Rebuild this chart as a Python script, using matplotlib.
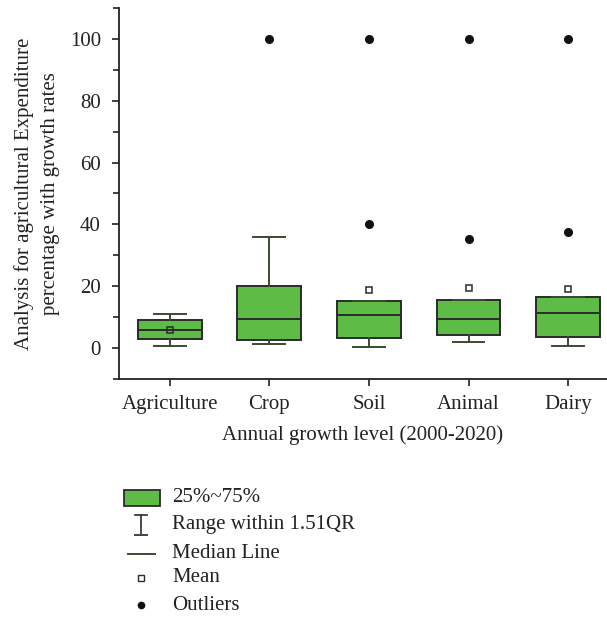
import matplotlib
matplotlib.use("Agg")
import matplotlib.pyplot as plt
from matplotlib.patches import Rectangle
from matplotlib.lines import Line2D

plt.rcParams['font.family'] = ['Liberation Serif', 'DejaVu Serif']

categories = ["Agriculture", "Crop", "Soil", "Animal", "Dairy"]
q1 = [2.9, 2.6, 3.3, 4.3, 3.5]
med = [5.7, 9.5, 10.8, 9.5, 11.2]
q3 = [8.95, 20.2, 15.1, 15.5, 16.4]
whislo = [0.65, 1.4, 0.2, 1.9, 0.65]
whishi = [10.9, 35.9, 15.1, 15.5, 16.4]
means = [5.7, None, 18.9, 19.3, 19.1]
outliers = [[], [100], [100, 40.2], [100, 35.4], [100, 37.6]]
yticks = [0, 20, 40, 60, 80, 100]

GREEN = "#5dbb46"
EDGE = "#2b2b2b"
WHISK = "#3b4a33"
TXT = "#222222"
FS = 15

fig = plt.figure(figsize=(6.07, 6.20), dpi=100)
ax = fig.add_axes([0.196, 0.389, 0.804, 0.598])

stats = []
for i in range(len(categories)):
    stats.append(dict(med=med[i], q1=q1[i], q3=q3[i], whislo=whislo[i],
                      whishi=whishi[i], fliers=outliers[i],
                      mean=means[i] if means[i] is not None else med[i],
                      label=categories[i]))
positions = list(range(len(categories)))
ax.bxp(stats, positions=positions, widths=0.64, patch_artist=True,
       showmeans=False, showfliers=True, capwidths=0.32,
       boxprops=dict(facecolor=GREEN, edgecolor=EDGE, linewidth=1.4),
       medianprops=dict(color=EDGE, linewidth=1.4),
       whiskerprops=dict(color=WHISK, linewidth=1.4),
       capprops=dict(color=WHISK, linewidth=1.4),
       flierprops=dict(marker='o', markerfacecolor='#111111', markeredgecolor='#111111',
                       markersize=5.5))
for i, m in enumerate(means):
    if m is not None:
        ax.plot(i, m, marker='s', markersize=4.2, markerfacecolor='none' if i == 0 else 'white',
                markeredgecolor=EDGE, markeredgewidth=1.1, zorder=5)

ax.set_xlim(-0.51, 4.39)
ax.set_ylim(-10, 110)
ax.set_yticks(yticks)
ax.set_yticks([-10, 10, 30, 50, 70, 90, 110], minor=True)
ax.set_xticks(positions)
ax.set_xticklabels(categories)
ax.spines['top'].set_visible(False)
ax.spines['right'].set_visible(False)
for s in ['left', 'bottom']:
    ax.spines[s].set_linewidth(1.3)
    ax.spines[s].set_color(TXT)
ax.tick_params(axis='both', which='major', direction='out', length=5, width=1.2,
               labelsize=FS, colors=TXT, labelcolor=TXT)
ax.tick_params(axis='y', which='minor', direction='out', length=4, width=1.2, colors=TXT)
ax.tick_params(axis='x', pad=7)
ax.tick_params(axis='y', pad=8)
ax.set_xlabel("Annual growth level (2000-2020)", fontsize=FS, labelpad=8, color=TXT)
ax.set_ylabel("Analysis for agricultural Expenditure\npercentage with growth rates",
              fontsize=FS, labelpad=7, color=TXT, linespacing=1.5)

# legend drawn in figure coordinates
W, H = 607.0, 620.0
def fx(px): return px / W
def fy(py): return 1 - py / H
fig.patches.append(Rectangle((fx(124), fy(506)), fx(36), 16 / H, transform=fig.transFigure,
                             facecolor=GREEN, edgecolor=EDGE, linewidth=1.3))
# I-beam
fig.lines.append(Line2D([fx(141), fx(141)], [fy(515), fy(535)], transform=fig.transFigure,
                        color=EDGE, linewidth=1.2))
fig.lines.append(Line2D([fx(135), fx(147)], [fy(515), fy(515)], transform=fig.transFigure,
                        color=EDGE, linewidth=1.2))
fig.lines.append(Line2D([fx(135), fx(147)], [fy(535), fy(535)], transform=fig.transFigure,
                        color=WHISK, linewidth=1.4))
fig.lines.append(Line2D([fx(128), fx(155)], [fy(554), fy(554)], transform=fig.transFigure,
                        color=WHISK, linewidth=1.4))
fig.lines.append(Line2D([fx(141)], [fy(578)], transform=fig.transFigure, marker='s',
                        markersize=3.8, markerfacecolor='white', markeredgecolor=EDGE,
                        markeredgewidth=1.0, linestyle='none'))
fig.lines.append(Line2D([fx(141)], [fy(605)], transform=fig.transFigure, marker='o',
                        markersize=4.5, markerfacecolor='#111111', markeredgecolor='#111111',
                        linestyle='none'))
labels = ["25%~75%", "Range within 1.51QR", "Median Line", "Mean", "Outliers"]
ys = [498, 525, 554, 578, 605]
for lab, yy in zip(labels, ys):
    fig.text(fx(172), fy(yy), lab, fontsize=FS, va='center', ha='left', color=TXT)

fig.savefig("out.png", dpi=100)
